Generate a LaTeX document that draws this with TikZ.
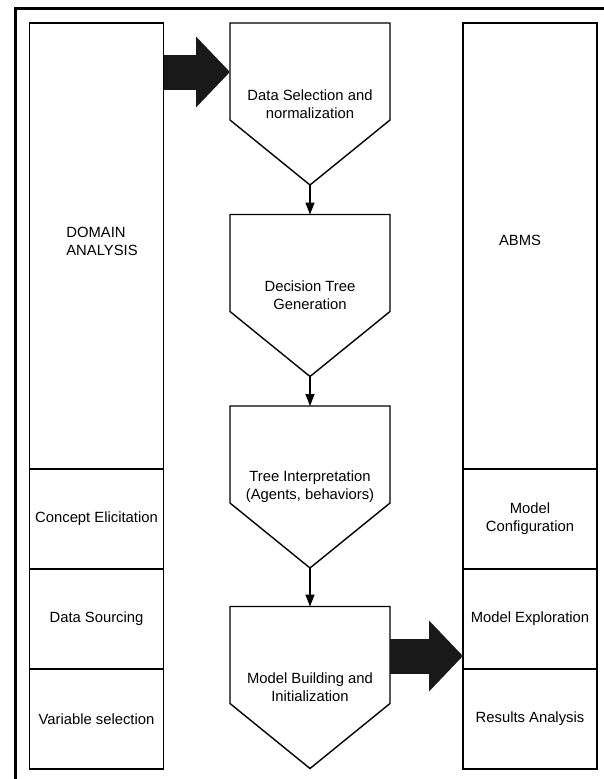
\documentclass[tikz,border=0pt]{standalone}
\usepackage{fontspec}
\setmainfont{Liberation Sans}
\usepackage{tikz}
\usetikzlibrary{arrows.meta,positioning,calc}

\begin{document}
\begin{tikzpicture}[
    x=1pt, y=-1pt,
    font=\fontsize{14.8}{18}\selectfont,
    cell/.style={draw, line width=1.4pt, minimum width=134pt, minimum height=100pt, inner sep=0pt, outer sep=0pt, align=center},
    stage/.style={minimum width=160pt, minimum height=162pt, inner sep=0pt, outer sep=0pt, align=center},
    outline/.style={draw, line width=1.4pt, line join=miter},
    flow/.style={-{Triangle[length=12pt, width=9pt]}, line width=1.4pt},
    bigarr/.style={-{Triangle[length=34pt, width=69pt]}, line width=35pt, draw=black!90}
]
\useasboundingbox (0,0) rectangle (603,779);
\draw[line width=3pt] (15,8) rectangle (640,820);

% left column
\node[cell, minimum height=446pt] (domain) at (96.5,246) {};
\node[align=left] (domainlbl) at (102,241) {DOMAIN\\ANALYSIS};
\node[cell, below=0pt of domain] (concept) {Concept Elicitation};
\node[cell, below=0pt of concept] (sourcing) {Data Sourcing};
\node[cell, below=0pt of sourcing] (varsel) {Variable selection};

% right column
\node[cell, minimum height=446pt] (abms) at (530,246) {};
\node[align=left] (abmslbl) at (520,240) {ABMS};
\node[cell, below=0pt of abms] (config) {Model\\Configuration};
\node[cell, below=0pt of config] (explore) {Model Exploration};
\node[cell, below=0pt of explore] (results) {Results Analysis};

% middle stages
\node[stage] (select) at (310,104) {Data Selection and\\normalization};
\node[stage] (gen) at (310,295.5) {Decision Tree\\Generation};
\node[stage] (interp) at (310,487) {Tree Interpretation\\(Agents, behaviors)};
\node[stage] (build) at (310,687.5) {Model Building and\\Initialization};

\foreach \s in {select,gen,interp,build}
  \draw[outline] (\s.north west) -- (\s.north east) -- ([yshift=65pt]\s.south east)
     -- (\s.south) -- ([yshift=65pt]\s.south west) -- cycle;

\draw[flow] (select.south) -- (gen.north);
\draw[flow] (gen.south) -- (interp.north);
\draw[flow] (interp.south) -- (build.north);

% block arrows
\draw[bigarr] (domain.east |- 0,72) -- (select.west |- 0,72);
\draw[bigarr] (build.east |- 0,656) -- (explore.west |- 0,656);
\end{tikzpicture}
\end{document}
